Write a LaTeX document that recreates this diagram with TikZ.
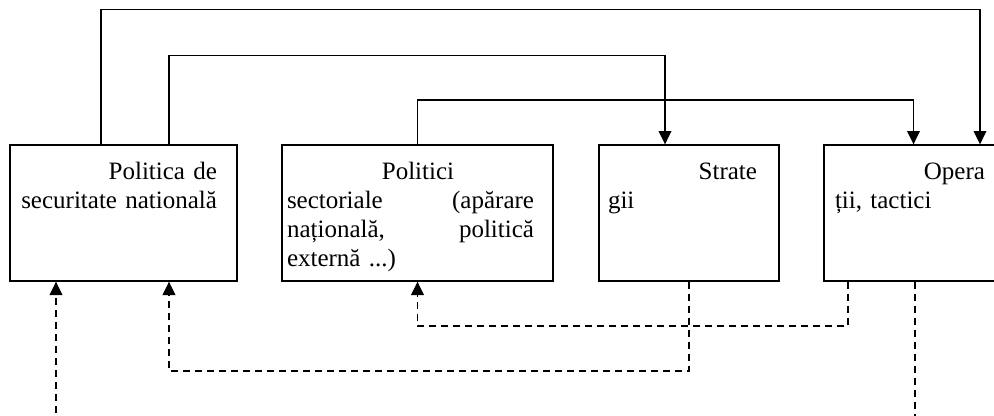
\documentclass[tikz,border=0pt]{standalone}
\usepackage{fontspec}
\setmainfont{Liberation Serif}
\usetikzlibrary{arrows.meta}

\tikzset{
  box/.style={draw, line width=1pt, minimum height=102pt, inner sep=0pt},
  txt/.style={inner sep=0pt, align=left, font=\fontsize{18.75}{21.75}\selectfont},
  feedback/.style={line width=1pt, dash pattern=on 5.5pt off 3.5pt},
}

\begin{document}
\begin{tikzpicture}[x=0.75pt, y=-0.75pt, line width=1pt, >={Triangle[length=10pt, width=9.5pt]}]
	\useasboundingbox (0,0) rectangle (994,415);
	\clip (0,0) rectangle (994,415);

	% casete
	\node[box, minimum width=170.25pt] (pol) at (123.5,213) {};
	\node[box, minimum width=203.25pt] (sec) at (417.5,213) {};
	\node[box, minimum width=135pt] (str) at (689,213) {};
	\node[box, minimum width=132pt] (op) at (912,213) {};

	% texte
	\node[txt, align=right, text width=150pt, anchor=base east] (poltxt) at ([shift={(-20,35)}]pol.north east)
		{Politica de\\securitate natională};
	\node[txt, text width=185.25pt, anchor=base west] (sectxt) at ([shift={(5,35)}]sec.north west)
		{\hspace*{11.25pt}\hfill Politici\hfill\null\\sectoriale\hfill (apărare\\națională,\hfill politică\\externă ...)};
	\node[txt, text width=111.75pt, anchor=base west] (strtxt) at ([shift={(9,35)}]str.north west)
		{\hfill Strate\\gii};
	\node[txt, text width=112.5pt, anchor=base west] (optxt) at ([shift={(11,35)}]op.north west)
		{\hfill Opera\\ții, tactici};

	% trasee
	\coordinate (a1) at (101,9.5);   \coordinate (a2) at (980,9.5);
	\coordinate (b1) at (169,55.5);  \coordinate (b2) at (665,55.5);
	\coordinate (c2) at (913.5,100);
	\coordinate (e1) at (689,371);   \coordinate (e2) at (169,371);
	\coordinate (f1) at (848,326);
	\coordinate (g1) at (56,425);    \coordinate (h1) at (915,425);

	% legaturi directe
	\draw[->] (pol.north -| a1) -- (a1) -- (a2) -- (op.north -| a2);
	\draw[->] (pol.north -| b1) -- (b1) -- (b2) -- (str.north -| b2);
	\draw[->] (sec.north) |- (c2) -- (op.north -| c2);

	% legaturi inverse
	\draw[feedback, ->] (str.south) -- (e1) -| (pol.south -| e2);
	\draw[feedback, ->] (op.south -| f1) -- (f1) -| (sec.south);
	\draw[feedback, ->] (g1) -- (pol.south -| g1);
	\draw[feedback] (op.south -| h1) -- (h1);
\end{tikzpicture}
\end{document}
